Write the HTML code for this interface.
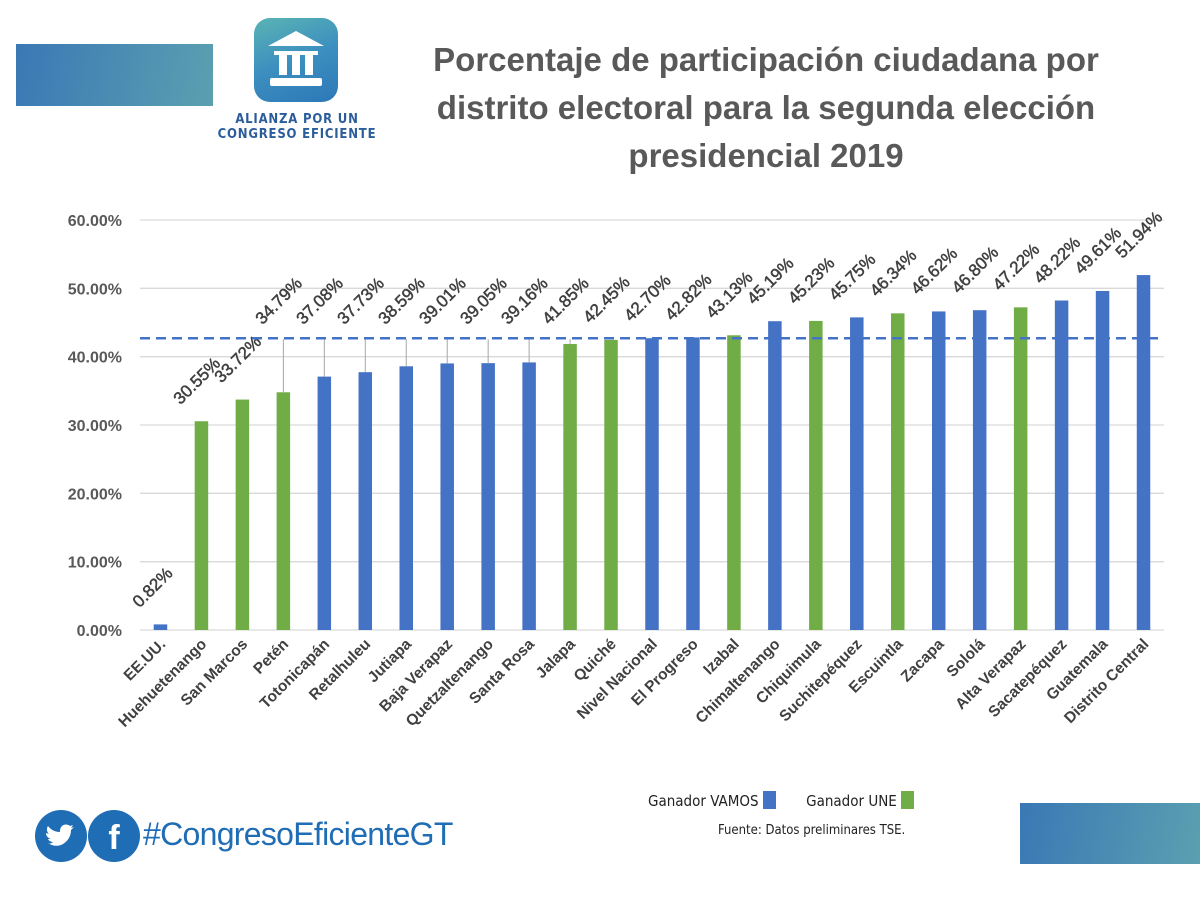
<!DOCTYPE html>
<html><head><meta charset="utf-8">
<style>
body{margin:0;background:#fff;width:1200px;height:900px;overflow:hidden;position:relative;font-family:"Liberation Sans",sans-serif}
.abs{position:absolute}
</style></head>
<body>
<div class="abs" style="left:16px;top:44px;width:197px;height:62px;background:linear-gradient(100deg,#3a78b5,#5aa0b0)"></div>
<div class="abs" style="left:254px;top:18px;width:84px;height:84px;border-radius:16px;background:linear-gradient(160deg,#5ab4b4 0%,#3c8fbf 50%,#2d78b8 100%)">
<svg width="84" height="84" viewBox="0 0 84 84"><polygon points="14,28 42,13 70,28" fill="#fff"/><rect x="20" y="33" width="44" height="4" fill="#fff"/><rect x="25" y="37" width="8" height="20" fill="#fff"/><rect x="38" y="37" width="8" height="20" fill="#fff"/><rect x="51" y="37" width="8" height="20" fill="#fff"/><rect x="16" y="60" width="52" height="8" rx="2" fill="#fff"/></svg></div>
<div class="abs" style="left:212px;top:112px;width:170px;text-align:center;color:#2a5d9a;font-weight:bold;font-size:13px;line-height:15px;letter-spacing:0.8px;white-space:nowrap;font-family:'DejaVu Sans Condensed','Liberation Sans',sans-serif">ALIANZA POR UN<br>CONGRESO EFICIENTE</div>
<div class="abs" style="left:396px;top:36px;width:740px;text-align:center;color:#595959;font-weight:bold;font-size:33px;line-height:48px">Porcentaje de participación ciudadana por distrito electoral para la segunda elección presidencial 2019</div>

<svg class="abs" style="left:0;top:0" width="1200" height="900" id="chart"></svg>

<div class="abs" style="left:648px;top:791px;font-size:15px;color:#222;font-family:'DejaVu Sans Condensed','Liberation Sans',sans-serif">
<span>Ganador VAMOS <span style="display:inline-block;width:13px;height:18px;background:#4472c4;vertical-align:-3px"></span></span>
<span style="margin-left:26px">Ganador UNE <span style="display:inline-block;width:13px;height:18px;background:#70ad47;vertical-align:-3px"></span></span></div>
<div class="abs" style="left:718px;top:823px;font-size:13px;color:#222;font-family:'DejaVu Sans Condensed','Liberation Sans',sans-serif">Fuente: Datos preliminares TSE.</div>
<div class="abs" style="left:1020px;top:803px;width:180px;height:61px;background:linear-gradient(100deg,#3a78b5,#5aa0b0)"></div>
<div class="abs" style="left:35px;top:810px;width:52px;height:52px;border-radius:50%;background:#1f6db5">
<svg width="52" height="52" viewBox="0 0 52 52"><path d="M13 33c4 3 10 4 15 1 5-3 8-8 8-14l3-3-3 1 2-3-3 1c-2-2-6-2-8 0-2 2-2 4-2 6-5 0-9-2-12-6-2 3-1 6 1 8l-3-1c0 3 2 5 5 6h-3c1 2 3 3 5 3-2 2-5 2-5 1z" fill="#fff"/></svg></div>
<div class="abs" style="left:88px;top:810px;width:52px;height:52px;border-radius:50%;background:#1f6db5;color:#fff;font-size:34px;font-weight:bold;text-align:center;line-height:56px">f</div>
<div class="abs" style="left:143px;top:816px;font-size:32px;color:#1f6db5;letter-spacing:-0.7px">#CongresoEficienteGT</div>

<script>
const categories=["EE.UU.","Huehuetenango","San Marcos","Petén","Totonicapán","Retalhuleu","Jutiapa","Baja Verapaz","Quetzaltenango","Santa Rosa","Jalapa","Quiché","Nivel Nacional","El Progreso","Izabal","Chimaltenango","Chiquimula","Suchitepéquez","Escuintla","Zacapa","Sololá","Alta Verapaz","Sacatepéquez","Guatemala","Distrito Central"];
const values=[0.82,30.55,33.72,34.79,37.08,37.73,38.59,39.01,39.05,39.16,41.85,42.45,42.70,42.82,43.13,45.19,45.23,45.75,46.34,46.62,46.80,47.22,48.22,49.61,51.94];
const winners=["V","U","U","U","V","V","V","V","V","V","U","U","V","V","U","V","U","V","U","V","V","U","V","V","V"];
const yTicks=[0,10,20,30,40,50,60];
const nationalAvg=42.70;

const NS="http://www.w3.org/2000/svg";
const svg=document.getElementById('chart');
const x0=140,x1=1164,y0=630,yTop=220;
const n=categories.length;
const step=(x1-x0)/n;
const xs=i=>x0+step*(i+0.5);
const ys=v=>y0-(v/60)*(y0-yTop);
function mk(t,a){const e=document.createElementNS(NS,t);for(const k in a)e.setAttribute(k,a[k]);svg.appendChild(e);return e;}
yTicks.forEach(t=>{
 const g=mk('line',{x1:x0,x2:x1,y1:ys(t),y2:ys(t),stroke:'#d9d9d9','stroke-width':1.3});
 
 
 const l=mk('text',{x:122,y:ys(t)+6,'text-anchor':'end','font-size':16,'font-weight':'bold',fill:'#595959'});
 l.textContent=t.toFixed(2)+'%';
 
 
});
const bw=13.5;
values.forEach((v,i)=>{
 const cx=xs(i),top=ys(v);
 const b=mk('rect',{x:cx-bw/2,y:top,width:bw,height:y0-top,fill:winners[i]==='V'?'#4472c4':'#70ad47'});
 
 
 let ly=top-16;
 const lim=ys(nationalAvg)-13;
 if(i>=3&&ly>lim){ly=lim;
  const ll=mk('line',{x1:cx,y1:top,x2:cx,y2:ys(nationalAvg)+1,stroke:'#a6a6a6','stroke-width':1});
  
  
 }
 const lx=cx-21;
 const t=mk('text',{x:lx,y:ly,'font-size':17,fill:'#404040','stroke':'#404040','stroke-width':0.5,transform:`rotate(-45 ${lx} ${ly})`});
 t.textContent=v.toFixed(2)+'%';
 
 
 const cxl=cx+6,cyl=645;
 const c=mk('text',{x:cxl,y:cyl,'text-anchor':'end','font-size':15.5,'font-weight':'bold',fill:'#404040',transform:`rotate(-45 ${cxl} ${cyl})`});
 c.textContent=categories[i];
 
 
});
const d=mk('line',{x1:x0,x2:x1,y1:ys(nationalAvg),y2:ys(nationalAvg),stroke:'#4472c4','stroke-width':2.5,'stroke-dasharray':'10 6'});


</script>
</body></html>
